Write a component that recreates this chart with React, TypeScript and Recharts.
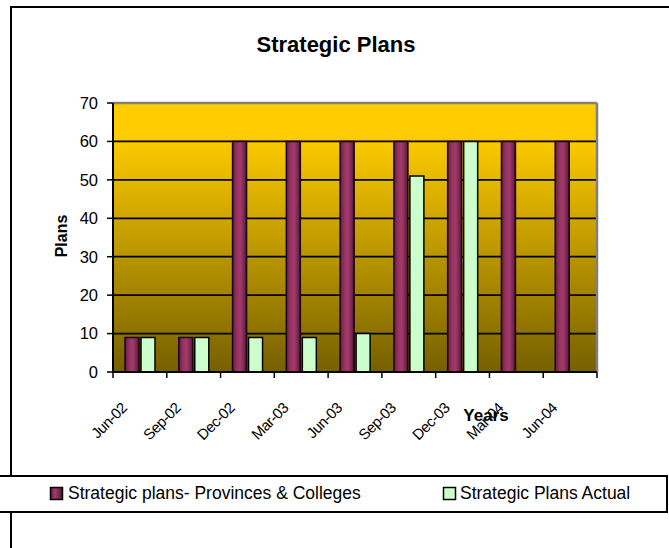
import React from 'react';
import { BarChart, Bar, XAxis, YAxis, CartesianGrid } from 'recharts';

// values
const categories = ['Jun-02', 'Sep-02', 'Dec-02', 'Mar-03', 'Jun-03', 'Sep-03', 'Dec-03', 'Mar-04', 'Jun-04'];
const provincesColleges = [9, 9, 60, 60, 60, 60, 60, 60, 60];
const plansActual: (number | null)[] = [9, 9, 9, 9, 10, 51, 60, null, null];
const yTicks = [0, 10, 20, 30, 40, 50, 60, 70];

const seriesNames = ['Strategic plans- Provinces & Colleges', 'Strategic Plans Actual'];
const chartTitle = 'Strategic Plans';
const xTitle = 'Years';
const yTitle = 'Plans';

const data = categories.map((c, i) => ({
  name: c,
  provinces: provincesColleges[i],
  actual: plansActual[i],
}));

const FONT = 'Arial, "Liberation Sans", sans-serif';
const W = 669;
const H = 548;

const XTick = (props: any) => {
  const { x, y, payload, index, visibleTicksCount, width } = props;
  const half = payload?.offset ?? width / visibleTicksCount / 2;
  const tx = x - 12;
  const ty = y + 37;
  const isLast = index === visibleTicksCount - 1;
  return (
    <g>
      <line x1={x - half} x2={x - half} y1={y} y2={y + 6} stroke="#000" strokeWidth={1.5} />
      {isLast && <line x1={x + half} x2={x + half} y1={y} y2={y + 6} stroke="#000" strokeWidth={1.5} />}
      <text
        x={tx}
        y={ty}
        textAnchor="end"
        transform={`rotate(-45, ${tx}, ${ty})`}
        fontSize={15}
        letterSpacing={-0.5}
        fontFamily={FONT}
        fill="#000"
      >
        {payload.value}
      </text>
    </g>
  );
};

const App: React.FC = () => {
  return (
    <div style={{ position: 'absolute', left: 0, top: 0, width: W, height: H, background: '#fff' }}>
      <div style={{ position: 'absolute', left: 0, top: 0 }}>
        <BarChart
          width={W}
          height={H}
          data={data}
          margin={{ top: 103, right: 72, bottom: 116, left: 0 }}
          barSize={14}
          barGap={2}
        >
          <defs>
            <linearGradient id="plotBg" x1="0" y1="0" x2="0" y2="1">
              <stop offset="0%" stopColor="#FFCC00" />
              <stop offset="12%" stopColor="#FFCC00" />
              <stop offset="100%" stopColor="#766000" />
            </linearGradient>
            <linearGradient id="barPlum" x1="0" y1="0" x2="1" y2="0">
              <stop offset="0%" stopColor="#5e1f40" />
              <stop offset="30%" stopColor="#96325f" />
              <stop offset="55%" stopColor="#a33a6c" />
              <stop offset="80%" stopColor="#7a2a52" />
              <stop offset="100%" stopColor="#4a1833" />
            </linearGradient>
          </defs>
          <CartesianGrid vertical={false} stroke="#000" strokeWidth={1.8} fill="url(#plotBg)" fillOpacity={1} />
          <CartesianGrid
            stroke="#808080"
            strokeWidth={2.5}
            horizontalCoordinatesGenerator={({ offset }: any) => [offset.top]}
            verticalCoordinatesGenerator={({ offset }: any) => [offset.left + offset.width]}
          />
          <XAxis
            dataKey="name"
            height={60}
            tickSize={0}
            tickMargin={0}
            tickLine={false}
            axisLine={{ stroke: '#000', strokeWidth: 2 }}
            tick={<XTick />}
            interval={0}
          />
          <YAxis
            width={113}
            domain={[0, 70]}
            ticks={yTicks}
            interval={0}
            tickSize={6}
            tickMargin={9}
            axisLine={{ stroke: '#000', strokeWidth: 2 }}
            tickLine={{ stroke: '#000', strokeWidth: 1.5 }}
            tick={{ fontSize: 16.5, fill: '#000', fontFamily: FONT }}
          />
          <Bar dataKey="provinces" name={seriesNames[0]} fill="url(#barPlum)" stroke="#1a0010" strokeWidth={1.5} isAnimationActive={false} />
          <Bar dataKey="actual" name={seriesNames[1]} fill="#CCFFCC" stroke="#000" strokeWidth={1.5} isAnimationActive={false} />
        </BarChart>
      </div>
      <svg
        width={W}
        height={H}
        style={{ position: 'absolute', left: 0, top: 0, pointerEvents: 'none' }}
        fontFamily={FONT}
      >
        <defs>
          <linearGradient id="swPlum" x1="0" y1="0" x2="1" y2="0">
            <stop offset="0%" stopColor="#5e1f40" />
            <stop offset="40%" stopColor="#a33a6c" />
            <stop offset="100%" stopColor="#4a1833" />
          </linearGradient>
        </defs>
        {/* outer chart border */}
        <path d={`M 11 ${H + 2} L 11 7 L ${W + 2} 7`} fill="none" stroke="#000" strokeWidth={2} />
        <text x={336} y={52} textAnchor="middle" fontSize={22} fontWeight="bold" fill="#000">
          {chartTitle}
        </text>
        <text x={486} y={421} textAnchor="middle" fontSize={17} fontWeight="bold" fill="#000">
          {xTitle}
        </text>
        <text x={67} y={236} textAnchor="middle" fontSize={16} fontWeight="bold" fill="#000" transform="rotate(-90, 67, 236)">
          {yTitle}
        </text>
        {/* legend */}
        <rect x={-2} y={476} width={669} height={36} fill="#fff" stroke="#000" strokeWidth={2} />
        <rect x={50.5} y={487.5} width={12} height={12} fill="url(#swPlum)" stroke="#000" strokeWidth={1.5} />
        <text x={68} y={499} fontSize={17.5} fill="#000">
          {seriesNames[0]}
        </text>
        <rect x={443.5} y={487.5} width={12} height={12} fill="#CCFFCC" stroke="#000" strokeWidth={1.5} />
        <text x={460} y={499} fontSize={17.5} fill="#000">
          {seriesNames[1]}
        </text>
      </svg>
    </div>
  );
};

export default App;
